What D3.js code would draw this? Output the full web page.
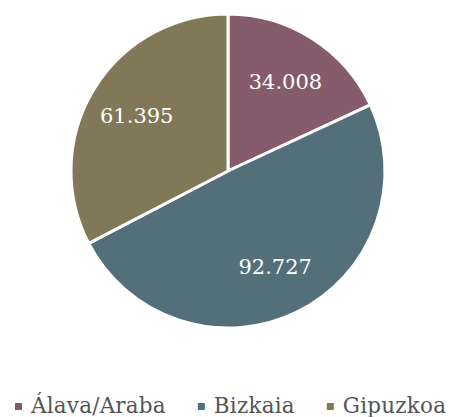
<!DOCTYPE html>
<html>
<head>
<meta charset="utf-8">
<script src="https://cdn.jsdelivr.net/npm/d3@7"></script>
<style>
  body { margin: 0; background: #fff; }
  svg { display: block; font-family: "DejaVu Serif", serif; }
</style>
</head>
<body>
<svg id="pie"></svg>
<script>
const regions = ["Álava/Araba", "Bizkaia", "Gipuzkoa"];
const values = [34.008, 92.727, 61.395];
const colors = ["#865b6b", "#53707a", "#817858"];

const width = 452;
const height = 417;
const cx = 228, cy = 171, radius = 157;

const svg = d3.select("#pie")
    .attr("width", width)
    .attr("height", height);

const data = regions.map((r, i) => ({ name: r, value: values[i], color: colors[i] }));

const pie = d3.pie()
    .value(d => d.value)
    .sort(null);

const arc = d3.arc().innerRadius(0).outerRadius(radius);
const labelArc = d3.arc().innerRadius(radius * 0.68).outerRadius(radius * 0.68);

const g = svg.append("g").attr("transform", `translate(${cx},${cy})`);
const arcs = pie(data);

g.selectAll("path")
    .data(arcs)
    .enter().append("path")
    .attr("d", arc)
    .attr("fill", d => d.data.color)
    .attr("stroke", "#fff")
    .attr("stroke-width", 3)
    .attr("stroke-linejoin", "round");

const fmt = d3.formatLocale({ decimal: ",", thousands: ".", grouping: [3], currency: ["", "€"] }).format(",.0f");

g.selectAll(".val")
    .data(arcs)
    .enter().append("text")
    .attr("class", "val")
    .attr("transform", d => `translate(${labelArc.centroid(d)})`)
    .attr("text-anchor", "middle")
    .attr("dy", "0.36em")
    .attr("fill", "#fff")
    .style("font-size", "21px")
    .text(d => fmt(d.data.value * 1000));

// legend
const legend = svg.append("g").attr("transform", "translate(0,413)");
let x = 15;
data.forEach(d => {
    const item = legend.append("g").attr("transform", `translate(${x},0)`);
    item.append("rect")
        .attr("x", 0).attr("y", -10)
        .attr("width", 7).attr("height", 7)
        .attr("fill", d.color);
    const t = item.append("text")
        .attr("x", 16)
        .attr("fill", "#555")
        .style("font-size", "21.5px")
        .style("letter-spacing", "0.2px")
        .text(d.name);
    x += 16 + t.node().getComputedTextLength() + 32;
});
</script>
</body>
</html>
